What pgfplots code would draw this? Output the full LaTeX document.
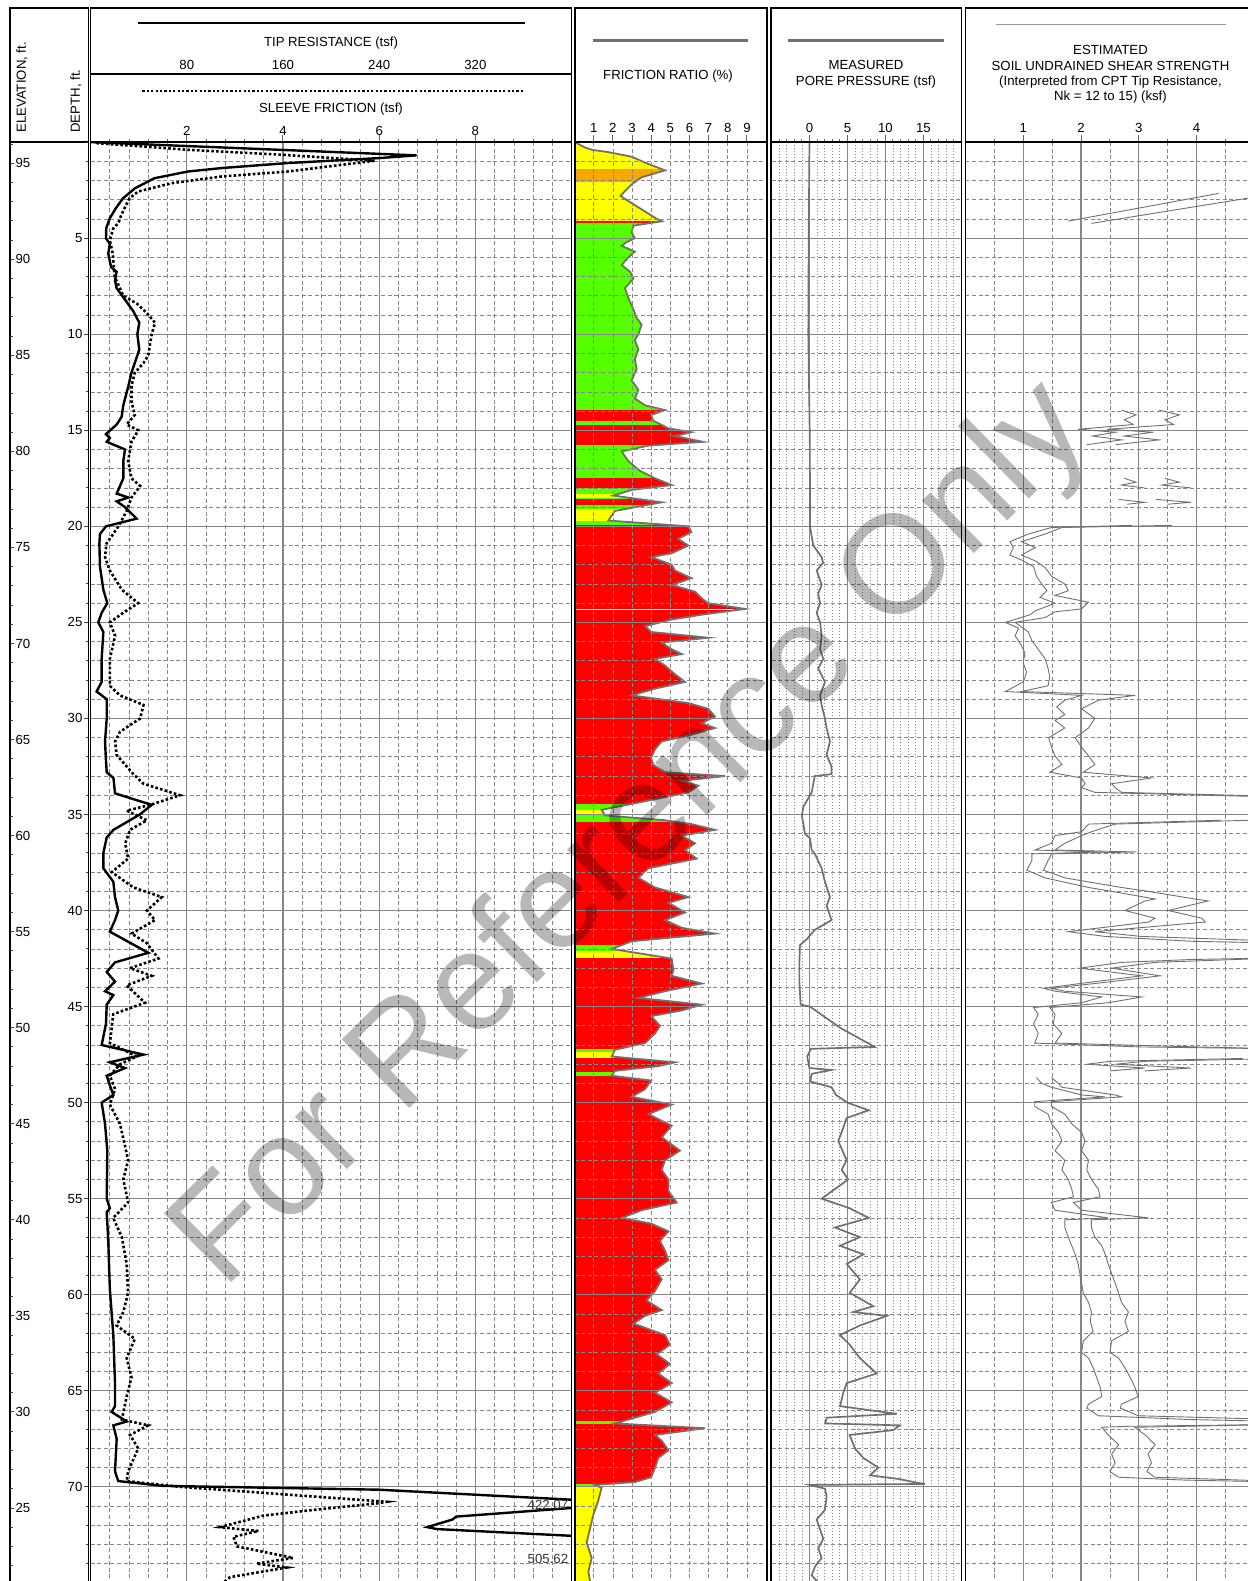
\documentclass[border=0pt]{standalone}
\usepackage{pgfplots}
\pgfplotsset{compat=1.18}
\usepackage{pgfplotstable}
\usepackage{fontspec}
\setmainfont{Liberation Sans}
\definecolor{cred}{RGB}{255,0,0}
\definecolor{cgreen}{RGB}{85,255,0}
\definecolor{cyellow}{RGB}{255,255,0}
\definecolor{corange}{RGB}{248,166,0}
\definecolor{cgrid}{RGB}{135,135,135}
\definecolor{ccurve}{RGB}{112,112,112}
\newcommand\hf{\fontsize{6.6pt}{7.6pt}\selectfont}
\pgfplotsset{
  panel/.style={
    scale only axis, anchor=north west, height=720.375pt,
    ymin=0, ymax=75, y dir=reverse,
    axis line style={draw=none},
    ytick={0,5,...,75}, minor y tick num=4,
    yticklabels={}, xticklabels={},
    every y tick/.append style={draw=none},
    every major y tick/.append style={draw=none},
    every minor y tick/.append style={draw=none},
    xtick pos=right, tick align=outside,
    major tick length=3.5pt, minor tick length=1.6pt,
    tick style={color=black!60, line width=0.5pt},
    grid=both,
    major grid style={color=cgrid, line width=0.6pt, solid},
    minor grid style={color=cgrid, line width=0.35pt, dash pattern=on 2pt off 1.3pt},
  },
  su/.style={color=ccurve, line width=0.45pt},
}
\newcommand\band[3]{\addplot[draw=none, fill=#3] coordinates {(0,#1) (10,#1) (10,#2) (0,#2)} -- cycle;}
\pgfplotstableread{
d fr
0 0.02
0.28 0.54
0.4 0.9
0.52 1.76
0.76 2.98
1.1 3.76
1.47 4.72
1.83 3.5
2.2 2.98
2.55 2.63
2.8 2.4
3.0 2.7
3.5 3.5
4.0 4.3
4.12 4.55
4.35 3.07
4.7 2.98
5 3.15
5.2 2.72
5.4 2.46
5.7 3.15
6.0 2.8
6.4 2.46
6.75 2.9
7.1 3.07
7.6 2.63
8.1 2.8
8.7 3.07
9.15 3.24
9.5 3.5
10 3.33
10.3 3.15
10.8 3.33
11.3 3.15
11.8 3.24
12.4 2.98
12.9 3.33
13.35 3.15
13.7 3.68
13.95 4.72
14.2 4.0
14.5 4.1
14.9 4.9
15.1 6.1
15.3 5.24
15.6 6.7
15.8 3.85
16.1 2.46
16.6 2.8
17.1 3.4
17.5 4.2
17.85 5.07
18.1 3.0
18.4 2.02
18.75 4.55
19.2 2.1
19.7 1.76
20 5.94
20.3 6.1
20.65 5.4
21 5.94
21.4 5.07
21.6 4.0
22 5.07
22.3 5.24
22.7 6.1
23.05 5.07
23.4 6.28
23.8 6.7
24.0 6.98
24.3 8.9
24.6 6.64
24.85 5.07
25.2 3.68
25.5 4.0
25.8 6.98
26.05 4.55
26.4 5.07
26.65 5.6
26.9 4.2
27.25 4.72
27.7 5.24
28.1 5.77
28.45 4.2
28.8 2.98
29.2 5.94
29.5 6.98
29.9 7.33
30.25 6.64
30.5 7.33
30.85 6.1
31.2 4.55
31.6 4.2
32.05 4.0
32.4 4.1
32.8 4.72
33.0 7.85
33.25 5.6
33.5 6.46
33.85 5.94
34.1 4.72
34.45 2.98
34.76 1.41
35.05 1.59
35.3 4.72
35.5 6.1
35.8 7.33
36.1 5.6
36.5 6.29
36.85 5.77
37.3 6.37
37.8 3.85
38.3 3.33
38.8 4.2
39.3 5.94
39.6 4.9
40.1 5.77
40.5 4.72
40.9 5.6
41.2 7.33
41.6 2.98
42.0 1.94
42.5 5.07
43.1 5.16
43.4 5.07
43.8 6.64
44.2 4.72
44.55 3.33
44.9 6.64
45.2 5.6
45.5 4.0
46 4.46
46.4 4.2
46.9 3.68
47.25 2.1
47.6 1.94
47.9 5.24
48.1 4.37
48.35 2.1
48.6 1.94
48.85 4.0
49.3 3.68
49.7 2.98
50.1 5.07
50.6 3.85
51.2 5.07
51.8 4.55
52.5 5.5
53 4.72
53.5 4.55
54 4.9
54.6 4.9
55.2 5.33
55.6 3.5
56 2.46
56.3 4.0
56.7 4.9
57.2 4.46
57.7 4.72
58.2 4.9
58.7 4.2
59.2 4.55
59.8 4.2
60.3 3.76
60.8 4.55
61.1 3.68
61.5 3.07
62.1 4.72
62.6 4.98
63.1 4.29
63.6 4.98
64.1 4.37
64.6 5.07
65.1 4.2
65.6 5.07
66.1 4.2
66.45 2.98
66.7 2.1
66.95 6.81
67.3 4.2
67.6 4.55
68.1 4.9
68.5 4.37
69 4.2
69.5 4.0
69.75 3.15
69.9 1.07
70.05 1.41
70.7 1.24
71.45 0.98
72.2 0.8
72.9 0.63
73.7 0.89
74.4 0.72
74.9 0.8
75.5 0.8
}\frtab
\begin{document}
\begin{tikzpicture}[x=0.5pt,y=-0.5pt,font=\hf]
\path[use as bounding box] (0,0) rectangle (1248,1581);
\clip (0,0) rectangle (1248,1581);
\begin{scope}[x=1cm,y=1cm]
% ---------- Panel 1: tip resistance ----------
\begin{axis}[panel, at={(45.3pt,-71.05pt)}, width=240.5pt,
  xmin=0, xmax=400, xtick={0,80,...,400}, minor x tick num=4]
\addplot[black, line width=1.2pt] coordinates {
(0,0) (271,0.69) (240,0.83) (164,1.09) (109,1.35) (81,1.53) (53,1.88) (37,2.4) (27,2.92) (21,3.44) (16,3.96) (13,4.48) (12.8,5) (16,5.3) (14.7,5.8) (17,6.5) (21.6,6.75) (20.3,7.2) (21.6,7.6) (28.6,8.2) (35.5,8.8) (40.5,9.4) (38.9,10) (40.5,10.8) (37.8,11.3) (34,12) (31.4,12.7) (27.2,13.7) (25.8,14.3) (21.7,14.7) (12.8,15.2) (16,15.4) (13.4,15.6) (28.6,16) (27.2,16.6) (27.2,17.5) (21.7,18.3) (31.4,18.5) (21.7,18.7) (28.6,19) (38.3,19.6) (12.8,20) (7.8,20.4) (7.3,20.9) (7.8,22.1) (10.6,23.3) (13.9,24) (9.2,24.5) (6.4,25) (10.6,25.5) (9.2,26.9) (9.2,28.1) (5,28.6) (13.4,29) (13.4,30) (12,31.2) (12.8,32.2) (13.4,32.8) (19,33.1) (20.3,33.9) (50.8,34.5) (41,35) (19,35.8) (13.4,36.2) (10.6,37) (10.6,37.8) (18.9,38.5) (20.3,39.3) (23,40) (20.3,40.5) (16,41.1) (48,42.2) (20.3,42.7) (13.4,43.2) (20.3,43.7) (12,44.2) (18.9,44.4) (13.4,44.9) (12.8,45.9) (9.2,47) (44,47.5) (16,47.9) (28.6,48.2) (13.4,48.6) (16,49.1) (18.9,49.6) (9.2,50) (12,51.1) (13.9,52.5) (13.4,55) (16,55.5) (13.4,55.7) (14.7,57.2) (16,59.7) (18.9,62.1) (20.3,64.6) (20.3,65.8) (17.5,66.1) (30,66.6) (18.9,66.8) (21.7,67.5) (20.3,69.2) (23,69.7) (60,69.95) (240,70.15) (400,70.67) (422,70.9) (400,71.1) (304,71.55) (301,71.7) (280,72.1) (288,72.2) (400,72.55) (506,73.7) (450,75.5)};
\end{axis}
% ---------- Panel 1 overlay: sleeve friction ----------
\begin{axis}[panel, hide axis, grid=none, at={(45.3pt,-71.05pt)}, width=240.5pt, xmin=0, xmax=10]
\addplot[black, line width=1.3pt, dash pattern=on 1.3pt off 1.1pt] coordinates {
(0.12,0.05) (2.02,0.4) (4.0,0.66) (5.9,0.97) (4.1,1.53) (2.72,1.79) (1.68,2.14) (0.99,2.57) (0.81,2.92) (0.74,3.26) (0.64,3.78) (0.58,4.2) (0.47,4.5) (0.40,5.1) (0.46,5.8) (0.5,7) (0.68,8) (0.96,8.4) (1.17,8.9) (1.34,9.4) (1.27,10) (1.23,10.6) (1.20,11.1) (1.10,11.5) (0.92,12) (0.85,12.7) (0.85,13.5) (0.92,14.2) (0.75,14.7) (0.99,15) (0.85,15.6) (0.78,16.6) (0.85,17.5) (1.03,17.9) (0.85,18.5) (0.75,19.2) (0.58,20) (0.33,20.9) (0.30,21.6) (0.40,22.3) (0.65,23.3) (0.99,24) (0.68,24.5) (0.40,25) (0.51,25.7) (0.40,26.9) (0.40,28.3) (0.61,28.8) (1.10,29.3) (1.03,30) (0.61,30.7) (0.51,31.2) (0.54,31.9) (0.89,32.9) (1.1,33.4) (1.86,34) (1.24,34.5) (0.75,34.8) (1.17,35.3) (0.82,35.8) (0.72,36.5) (0.78,37.3) (0.44,38) (0.89,38.8) (1.48,39.3) (1.17,40) (1.34,40.5) (0.85,41.2) (1.17,41.7) (1.41,42.5) (0.82,43) (1.27,43.4) (0.75,43.9) (1.13,44.8) (0.47,45.4) (0.44,46.1) (0.40,46.9) (0.96,47.6) (0.61,48) (0.40,48.6) (0.51,49.3) (0.40,50.1) (0.61,51.1) (0.72,52.3) (0.78,53) (0.68,54) (0.78,55.2) (0.47,56) (0.65,57) (0.75,58.4) (0.78,59.9) (0.68,60.9) (0.54,61.6) (0.92,62.3) (0.75,63.3) (0.85,64.3) (0.75,65.3) (0.65,66.5) (1.2,66.8) (0.82,67.3) (0.99,68) (0.78,69.2) (0.75,69.7) (1.86,70) (6.16,70.78) (6.0,70.85) (4.64,71.2) (3.59,71.5) (2.69,72.1) (3.49,72.3) (2.97,72.6) (3.04,73.1) (4.21,73.7) (3.45,74) (4.08,74.2) (2.9,74.7) (2.5,75.5)};
\end{axis}
% ---------- Panel 2: friction ratio ----------
\begin{axis}[panel, at={(287.3pt,-71.05pt)}, width=95.75pt,
  xmin=0, xmax=10, xtick={0,...,10}, axis on top,
  major x grid style={dash pattern=on 2pt off 1.3pt, line width=0.35pt}]
\band{0}{1.4}{cyellow}
\band{1.4}{2.07}{corange}
\band{2.07}{4.1}{cyellow}
\band{4.1}{4.23}{cred}
\band{4.23}{13.95}{cgreen}
\band{13.95}{14.5}{cred}
\band{14.5}{14.7}{cgreen}
\band{14.7}{15.75}{cred}
\band{15.75}{17.5}{cgreen}
\band{17.5}{18.0}{cred}
\band{18.0}{18.3}{cgreen}
\band{18.3}{18.5}{cyellow}
\band{18.5}{18.6}{cgreen}
\band{18.6}{18.9}{cred}
\band{18.9}{19.1}{cgreen}
\band{19.1}{19.7}{cyellow}
\band{19.7}{19.95}{cgreen}
\band{19.95}{34.45}{cred}
\band{34.45}{34.76}{cgreen}
\band{34.76}{35.05}{cyellow}
\band{35.05}{35.4}{cgreen}
\band{35.4}{41.77}{cred}
\band{41.77}{42.1}{cgreen}
\band{42.1}{42.46}{cyellow}
\band{42.46}{47.2}{cred}
\band{47.2}{47.37}{cgreen}
\band{47.37}{47.67}{cyellow}
\band{47.67}{48.4}{cred}
\band{48.4}{48.6}{cgreen}
\band{48.6}{66.58}{cred}
\band{66.58}{66.73}{cgreen}
\band{66.73}{69.83}{cred}
\band{69.83}{69.95}{cgreen}
\band{69.95}{76}{cyellow}
\addplot[fill=white, draw=none] table[x=fr,y=d]{\frtab} -- (axis cs:10.5,75.5) -- (axis cs:10.5,-0.5) -- cycle;
\addplot[white, line width=0.8pt] coordinates {(0.05,24.32) (8.3,24.32)};
\addplot[ccurve, line width=0.9pt] table[x=fr,y=d]{\frtab};
\end{axis}
% ---------- Panel 3: pore pressure ----------
\begin{axis}[panel, at={(385.75pt,-71.05pt)}, width=94.9pt,
  xmin=-5, xmax=20, xtick={-5,0,...,20}, minor x tick num=4,
  minor x grid style={dash pattern=on 0.5pt off 1pt}]
\addplot[ccurve, line width=0.85pt] coordinates {
(0,0) (-0.1,5) (-0.15,10) (0.05,15.6) (0.07,20) (0.5,21) (1.6,21.6) (1.8,21.9) (0.95,22.3) (1.6,23.05) (1.15,23.5) (1.4,24) (0.95,24.5) (1.4,25) (1.6,25.7) (1.4,26.4) (1.82,26.9) (1.15,27.4) (2.04,28.1) (1.4,28.8) (1.6,29.3) (2.04,30) (2.26,30.5) (2.7,31.2) (2.26,31.9) (2.9,32.5) (2.9,32.9) (0.7,33) (0.29,33.85) (-0.81,34.6) (-1.0,35.05) (-0.59,36) (0.07,36.25) (0.29,36.85) (0.72,37.05) (1.6,37.8) (2.04,38.5) (2.7,39.3) (2.26,39.75) (2.9,40.5) (0.72,41) (-0.37,41.5) (-1.25,41.8) (-1.33,42.7) (-1.33,43.7) (-1.16,44.9) (0.07,45) (4.02,46.1) (8.6,47.1) (0.2,47.2) (-0.3,47.6) (0,48.2) (2.9,48.3) (0.3,48.5) (0.1,48.9) (2.9,49.2) (3.5,49.6) (5.0,50.0) (7.8,50.4) (4.9,50.8) (4.46,51.3) (3.8,52.0) (4.9,53) (4.24,53.5) (5.1,54) (1.6,55) (5.3,55.5) (7.8,56) (3.36,56.5) (6.65,57) (4.02,57.45) (7.1,57.9) (4.9,58.4) (6.65,59.2) (5.3,59.9) (8.4,60.6) (5.78,60.9) (10.2,61.1) (6.65,61.6) (4.02,62.1) (5.3,62.6) (6.65,63.3) (8.85,64.1) (4.9,64.6) (4.46,65.1) (4.02,65.8) (11.5,66.2) (2.3,66.4) (2.04,66.7) (11.9,66.8) (11.0,67.05) (5.3,67.3) (5.99,68) (7.1,68.5) (9.07,69) (7.97,69.4) (11.9,69.6) (13.7,69.75) (15.2,69.85) (0.07,69.9) (2.04,70.1) (2.26,70.5) (2.04,71.2) (0.95,71.7) (1.38,72.2) (1.82,72.7) (1.16,73.2) (1.6,73.7) (0.73,74.15) (0.29,74.6) (0.95,74.9) (0.8,75.5)};
\end{axis}
% ---------- Panel 4: undrained shear strength ----------
\begin{axis}[panel, at={(482.7pt,-71.05pt)}, width=144.5pt,
  xmin=0, xmax=5, xtick={0,...,5}, minor x tick num=1]
\addplot[su] coordinates {(4.38,2.67) (1.78,4.11)};
\addplot[su] coordinates {(5.6,2.5) (4.9,2.91) (2.18,4.23)};
\addplot[su] coordinates {(2.7,13.95) (2.95,14.2) (2.75,14.45) (2.9,14.7) (1.95,14.95) (2.6,15.1) (2.2,15.3) (2.7,15.5) (2.1,15.75)};
\addplot[su] coordinates {(3.35,13.95) (3.7,14.2) (3.45,14.45) (3.6,14.7) (2.45,14.95) (3.25,15.1) (2.75,15.3) (3.35,15.5) (2.6,15.75)};
\addplot[su] coordinates {(2.75,17.5) (2.95,17.7) (2.7,17.85) (3.1,18.0)};
\addplot[su] coordinates {(2.65,18.6) (3.1,18.75) (2.8,18.85)};
\addplot[su] coordinates {(3.45,17.5) (3.7,17.7) (3.4,17.85) (3.9,18.0)};
\addplot[su] coordinates {(3.3,18.6) (3.9,18.75) (3.5,18.85)};
\addplot[su] coordinates {(2.88,19.95) (1.49,20.06) (1.09,20.4) (0.77,20.8) (0.83,21.1) (0.77,21.5) (0.97,21.75) (1.18,22.1) (1.23,22.6) (1.32,23) (1.41,23.35) (1.29,23.7) (1.55,24.0) (1.21,24.4) (1.12,24.6) (0.69,25) (0.92,25.3) (0.86,25.7) (0.97,26.2) (1.03,26.6) (1.0,27.1) (1.06,27.6) (1.0,28.1) (0.69,28.6) (2.01,28.8) (1.72,29.05) (1.58,29.4) (1.72,29.8) (1.55,30.1) (1.72,30.5) (1.44,31) (1.49,31.5) (1.55,31.95) (1.67,32.4) (1.46,32.8) (2.01,33.1) (2.07,33.4) (2.01,33.6) (2.24,33.85) (5.5,34.1)};
\addplot[su] coordinates {(3.57,19.95) (1.67,20.06) (1.38,20.4) (0.97,20.8) (1.21,21.1) (0.97,21.5) (1.21,21.8) (1.38,22.15) (1.49,22.6) (1.72,23) (1.78,23.35) (1.55,23.6) (2.13,23.95) (2.01,24.3) (1.55,24.45) (1.38,24.75) (0.86,25) (1.09,25.5) (1.15,25.95) (1.26,26.4) (1.38,26.9) (1.43,27.4) (1.46,27.85) (1.43,28.3) (0.97,28.6) (2.94,28.8) (2.3,29.05) (2.01,29.5) (2.24,30) (2.13,30.5) (1.9,31) (2.01,31.5) (2.13,31.95) (2.24,32.4) (2.04,32.8) (3.22,33.1) (2.53,33.4) (2.59,33.6) (2.7,33.85) (6,34.1)};
\addplot[su] coordinates {(4.43,35.3) (2.13,35.5) (2.01,35.9) (1.55,36.1) (1.49,36.5) (1.2,36.85) (2.36,36.95) (1.15,37.05) (1.15,37.4) (1.06,37.9) (1.38,38.3) (2.13,38.8) (2.53,39) (3.28,39.4) (3.11,39.5) (2.76,40) (3.28,40.4) (3.17,40.6) (1.78,41.1) (2.42,41.35) (3.91,41.6) (5.5,41.7)};
\addplot[su] coordinates {(5.5,35.25) (2.59,35.5) (2.18,35.9) (2.01,36.1) (1.72,36.5) (1.55,36.85) (2.96,36.95) (1.49,37.05) (1.43,37.4) (1.35,37.9) (1.72,38.3) (2.7,38.8) (3.16,39) (3.97,39.4) (4.2,39.5) (3.51,40) (4.09,40.4) (4.15,40.6) (2.24,41.1) (3.05,41.35) (5.5,41.6)};
\addplot[su] coordinates {(5.5,42.46) (3.9,42.55) (2.7,42.7) (1.98,43) (3.05,43.4) (2.24,43.7) (1.35,44.05) (1.55,44.2) (2.36,44.5) (2.01,44.8) (1.18,45.05) (1.26,45.4) (1.18,45.9) (1.26,46.4) (1.2,46.9) (3.0,47.1) (5.5,47.2)};
\addplot[su] coordinates {(5.5,42.46) (3.28,42.7) (2.53,43) (3.37,43.4) (2.53,43.7) (1.49,44.05) (1.72,44.2) (3.05,44.5) (2.47,44.8) (1.46,45.05) (1.55,45.4) (1.52,45.9) (1.67,46.4) (1.55,46.9) (4.0,47.1) (5.5,47.2)};
\addplot[su] coordinates {(4.8,47.7) (2.5,47.85) (2.1,48.0) (3.1,48.2) (2.5,48.35)};
\addplot[su] coordinates {(5.5,47.7) (3.1,47.85) (2.6,48.0) (3.9,48.2) (3.1,48.35)};
\addplot[su] coordinates {(1.23,48.7) (1.32,49) (1.49,49.2) (2.01,49.6) (2.42,49.7) (1.2,49.95) (1.2,50.2) (1.43,50.6) (1.49,51.1) (1.61,51.55) (1.67,52) (1.55,52.5) (1.72,53) (1.67,53.5) (1.78,54) (1.84,54.5) (1.87,54.9) (1.49,55.2) (1.55,55.6) (2.47,56) (1.72,56.1) (1.72,56.5) (1.78,57) (1.84,57.45) (1.9,57.9) (1.95,58.4) (1.98,58.9) (2.01,59.4) (2.04,59.9) (2.13,60.4) (2.18,60.9) (2.16,61.4) (2.21,61.9) (2.04,62.4) (2.01,63) (2.13,63.3) (2.21,63.8) (2.27,64.3) (2.33,64.8) (2.36,65.3) (2.13,65.7) (2.1,65.9) (2.3,66.3) (3.91,66.5) (5.5,66.6)};
\addplot[su] coordinates {(1.49,48.7) (1.61,49) (1.67,49.2) (2.59,49.6) (2.7,49.7) (1.49,49.95) (1.49,50.2) (1.72,50.6) (1.84,51.1) (2.01,51.55) (2.07,52) (2.01,52.5) (2.13,53) (2.1,53.5) (2.18,54) (2.3,54.5) (2.33,54.9) (1.87,55.2) (2.01,55.6) (3.17,56) (2.18,56.1) (2.18,56.5) (2.24,57) (2.36,57.45) (2.42,57.9) (2.47,58.4) (2.53,58.9) (2.59,59.4) (2.65,59.9) (2.7,60.4) (2.82,60.9) (2.76,61.4) (2.82,61.9) (2.53,62.4) (2.5,63) (2.65,63.3) (2.76,63.8) (2.85,64.3) (2.93,64.8) (2.99,65.3) (2.7,65.7) (2.68,65.9) (2.99,66.3) (5.5,66.5)};
\addplot[su] coordinates {(5.5,66.75) (2.8,66.85) (2.36,66.9) (2.47,67.3) (2.65,67.8) (2.53,68.3) (2.59,68.75) (2.5,69.2) (2.65,69.5) (3.8,69.65) (5.5,69.75)};
\addplot[su] coordinates {(5.5,66.75) (2.93,66.9) (3.11,67.3) (3.28,67.8) (3.16,68.3) (3.22,68.75) (3.14,69.2) (3.28,69.5) (4.8,69.65) (5.5,69.75)};
\end{axis}
\end{scope}
% ---------- frames ----------
\draw[line width=0.8pt] (10,8) rectangle (88.3,1600);
\draw[line width=0.8pt] (90.6,8) rectangle (571.6,1600);
\draw[line width=0.8pt] (574.8,8) rectangle (766.7,1600);
\draw[line width=0.8pt] (770.8,8) rectangle (961.3,1600);
\draw[line width=0.8pt] (965.6,8) rectangle (1270,1600);
\foreach \a/\b in {10/88.3, 90.6/571.6, 574.8/766.7, 770.8/961.3, 965.6/1270}
  {\draw[line width=1pt] (\a,142.1) -- (\b,142.1);}
\draw[line width=0.8pt] (90.6,74) -- (571.6,74);
% ---------- depth / elevation column ----------
\foreach \d in {0,...,75} {\draw[line width=0.45pt, black!75] (85.8,{142.1+19.21*\d}) -- (88.3,{142.1+19.21*\d});}
\foreach \d in {5,10,...,70} {\draw[line width=0.45pt, black!75] (83.8,{142.1+19.21*\d}) -- (88.3,{142.1+19.21*\d});
  \node[anchor=east, inner sep=0.5pt] at (83.8,{142.1+19.21*\d}) {\d};}
\foreach \k in {0,...,74} {\draw[line width=0.45pt, black!75] (10,{142.1+19.21*(\k+0.1)}) -- (12.6,{142.1+19.21*(\k+0.1)});}
\foreach \k in {0,...,14} {\pgfmathtruncatemacro\lab{95-5*\k}
  \draw[line width=0.45pt, black!75] (10,{142.1+19.21*(1.1+5*\k)}) -- (14.2,{142.1+19.21*(1.1+5*\k)});
  \node[anchor=west, inner sep=0.5pt] at (14.2,{142.1+19.21*(1.1+5*\k)}) {\lab};}
% ---------- header texts ----------
\node[rotate=90, anchor=west, inner sep=0pt] at (22,133) {ELEVATION, ft.};
\node[rotate=90, anchor=west, inner sep=0pt] at (76,133) {DEPTH, ft.};
\draw[line width=1.1pt] (137.6,23.3) -- (524.6,23.3);
\node at (331,42.7) {TIP RESISTANCE (tsf)};
\node at (186.8,65) {80}; \node at (283,65) {160}; \node at (379.2,65) {240}; \node at (475.4,65) {320};
\draw[line width=1.1pt, dash pattern=on 1.1pt off 1.1pt] (142.4,90.7) -- (522.7,90.7);
\node at (331,109) {SLEEVE FRICTION (tsf)};
\node at (186.8,131) {2}; \node at (283,131) {4}; \node at (379.2,131) {6}; \node at (475.4,131) {8};
\draw[ccurve, line width=1.4pt] (592.5,40.7) -- (748,40.7);
\node at (668,76) {FRICTION RATIO (\%)};
\foreach \i in {1,...,9} {\node at ({574.6+19.15*\i},128) {\i};}
\draw[ccurve, line width=1.4pt] (788.3,40.7) -- (944,40.7);
\node at (866,65) {MEASURED};
\node at (866,81.7) {PORE PRESSURE (tsf)};
\node at (809.5,128) {0}; \node at (847.5,128) {5}; \node at (885.4,128) {10}; \node at (923.4,128) {15};
\draw[black!40, line width=0.5pt] (995.9,24) -- (1225.9,24);
\node at (1110.5,50) {ESTIMATED};
\node at (1110.5,65.7) {SOIL UNDRAINED SHEAR STRENGTH};
\node at (1110.5,81.7) {(Interpreted from CPT Tip Resistance,};
\node at (1110.5,97.3) {Nk = 12 to 15) (ksf)};
\node at (1023.2,128) {1}; \node at (1081,128) {2}; \node at (1138.8,128) {3}; \node at (1196.6,128) {4};
% ---------- off-scale values ----------
\node[anchor=east, inner sep=0.5pt, text=black!80] at (569.5,1505) {422.07};
\node[anchor=east, inner sep=0.5pt, text=black!80] at (569.5,1558.5) {505.62};
% ---------- watermark ----------
\node[rotate=44.5, font=\fontsize{70pt}{70pt}\selectfont, text=black, text opacity=0.28] at (634,837) {For Reference Only};
\end{tikzpicture}
\end{document}
